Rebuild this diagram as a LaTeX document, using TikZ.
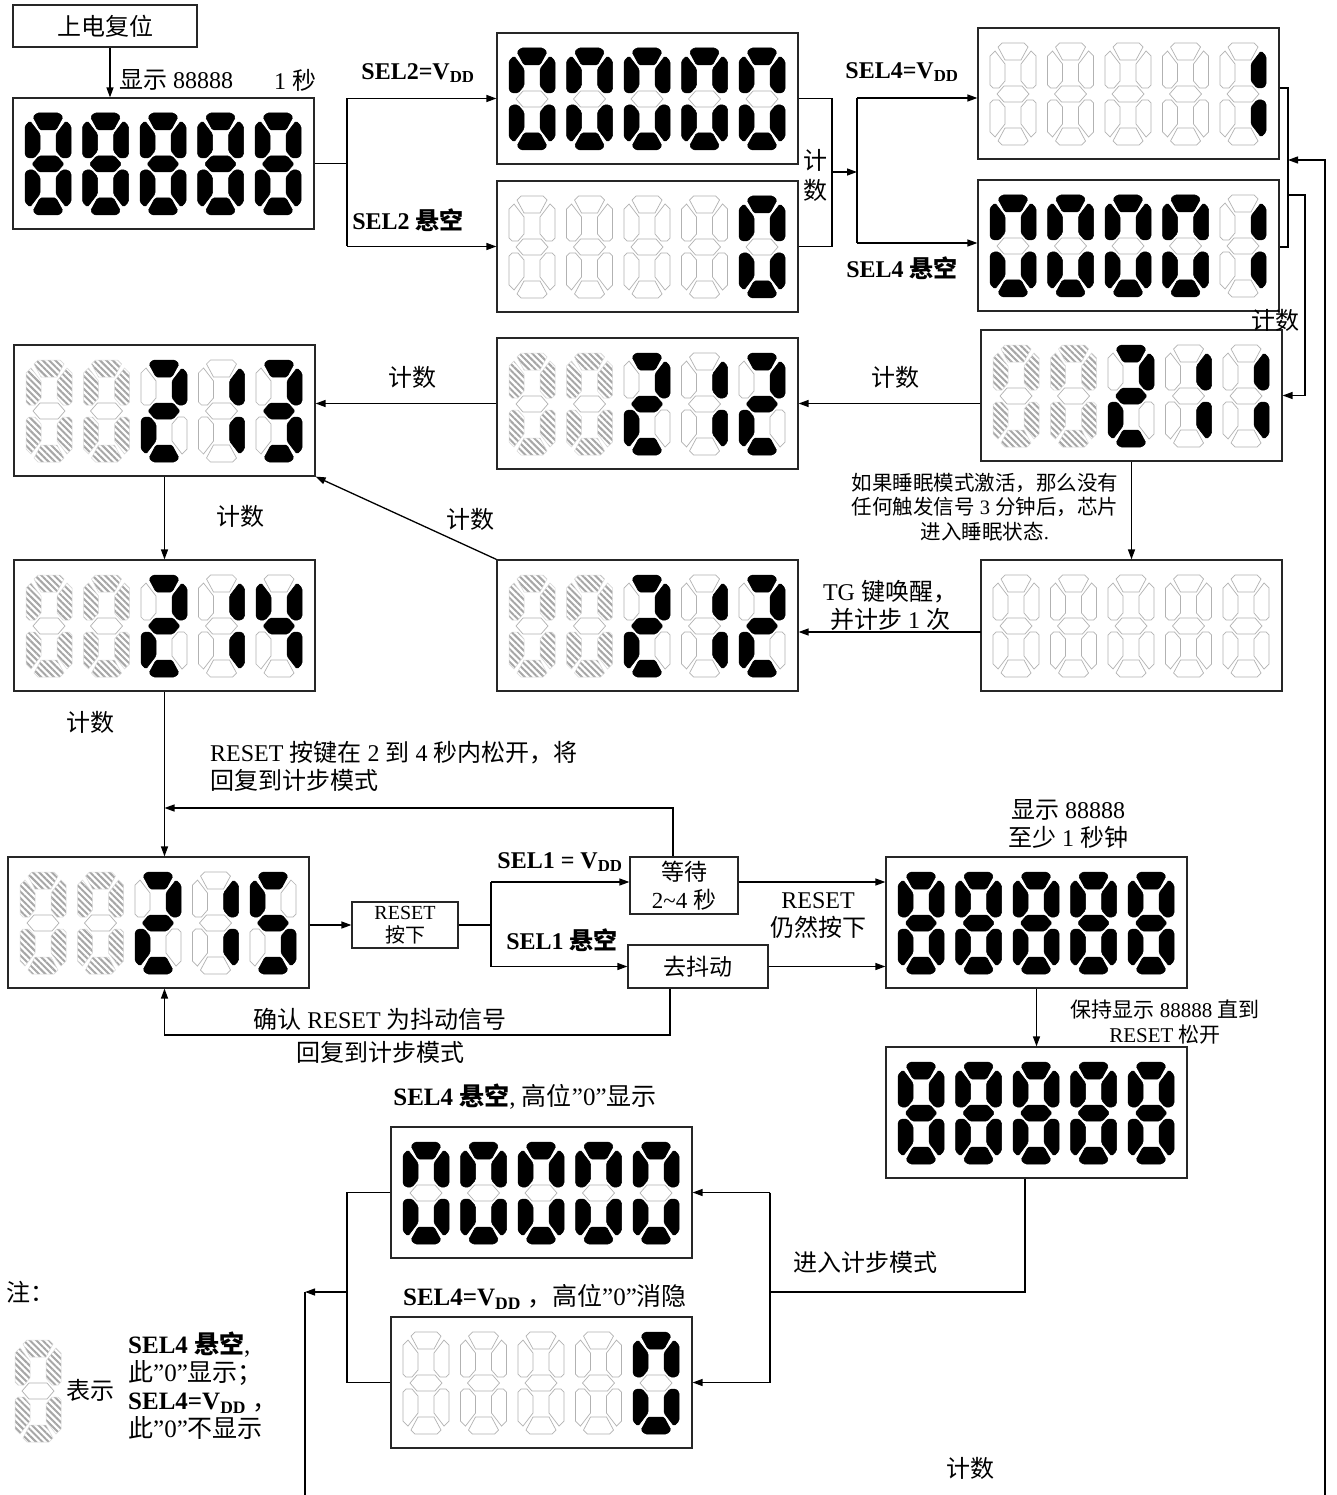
\documentclass[tikz,border=0pt]{standalone}
\usepackage{fontspec}
\setmainfont{Liberation Serif}
\newfontfamily\cjk{Noto Sans CJK SC}
\usetikzlibrary{arrows.meta,patterns.meta,calc}
\newcommand\zh[1]{{\cjk #1}}
\tikzset{
 sB/.style={fill=black,draw=black,line width=0.5pt,rounded corners=1.5pt},
 sO/.style={fill=white,draw=gray!60,line width=0.7pt},
 sH/.style={pattern={Lines[angle=-45,distance=4.5pt,line width=2pt]},pattern color=gray!70,draw=gray!30,line width=0.5pt},
 box/.style={draw=black!85,line width=1.2pt,minimum width=301pt,minimum height=131pt,inner sep=0pt,fill=white},
 tbox/.style={draw=black!85,line width=1.2pt,inner sep=0pt,fill=white,align=center,font=\fontsize{23}{28}\selectfont},
 ln/.style={line width=1.3pt},
 arr/.style={ln,-{Triangle[length=10pt,width=7pt]}},
 lab/.style={font=\fontsize{24}{28}\selectfont,inner sep=0pt,align=center},
 llab/.style={font=\fontsize{25}{28}\selectfont,inner sep=0pt,align=center},
 blab/.style={font=\fontsize{24}{28}\selectfont\bfseries,inner sep=0pt,align=center},
 slab/.style={font=\fontsize{20.5}{24.5}\selectfont,inner sep=0pt,align=center},
}
\def\sgE{BBBBBBB}
\def\sgZ{BBBOBBB}
\def\sgX{OOOOOOO}
\def\sgI{OOBOOBO}
\def\sgT{BOBBBOB}
\def\sgR{BOBBOBB}
\def\sgF{OBBBOBO}
\def\sgV{BBOBOBB}
\def\sgQ{HHHOHHH}
\def\digparse#1#2#3#4#5#6#7\relax{%
 \path[s#1,shift={({\dgx},{\dgy})}] (12,0)--(34,0)--(38,4)--(31,17)--(15,17)--(8,4)--cycle;
 \path[s#2,shift={({\dgx},{\dgy})}] (0,13)--(5,8)--(15,21)--(15,38)--(9,45)--(3,45)--(0,42)--cycle;
 \path[s#3,shift={({\dgx},{\dgy})}] (46,13)--(41,8)--(31,21)--(31,38)--(37,45)--(43,45)--(46,42)--cycle;
 \path[s#4,shift={({\dgx},{\dgy})}] (7,51)--(14,43)--(32,43)--(39,51)--(32,59)--(14,59)--cycle;
 \path[s#5,shift={({\dgx},{\dgy})}] (0,89)--(5,94)--(15,81)--(15,64)--(9,57)--(3,57)--(0,60)--cycle;
 \path[s#6,shift={({\dgx},{\dgy})}] (46,89)--(41,94)--(31,81)--(31,64)--(37,57)--(43,57)--(46,60)--cycle;
 \path[s#7,shift={({\dgx},{\dgy})}] (12,102)--(34,102)--(38,98)--(31,85)--(15,85)--(8,98)--cycle;
}
\newcommand\dig[3]{\def\dgx{#1}\def\dgy{#2}\expandafter\digparse#3\relax}
\newcommand\dbox[8]{%
 \node[box] (#1) at ({#2+150.5},{#3+65.5}) {};
 \dig{#2+12}{#3+15}{#4}\dig{#2+69.5}{#3+15}{#5}\dig{#2+127}{#3+15}{#6}%
 \dig{#2+184.5}{#3+15}{#7}\dig{#2+242}{#3+15}{#8}}
\begin{document}
\begin{tikzpicture}[x=1pt,y=-1pt]
\useasboundingbox (0,0) rectangle (1336,1495);
\fill[white] (0,0) rectangle (1336,1495);
% boxes
\node[tbox,minimum width=184pt,minimum height=42pt,font=\fontsize{24}{28}\selectfont] (pw) at (105,26) {\zh{上电复位}};
\dbox{A}{13}{98}{\sgE}{\sgE}{\sgE}{\sgE}{\sgE}
\dbox{B}{497}{33}{\sgZ}{\sgZ}{\sgZ}{\sgZ}{\sgZ}
\dbox{C}{497}{181}{\sgX}{\sgX}{\sgX}{\sgX}{\sgZ}
\dbox{D}{978}{28}{\sgX}{\sgX}{\sgX}{\sgX}{\sgI}
\dbox{E}{978}{180}{\sgZ}{\sgZ}{\sgZ}{\sgZ}{\sgI}
\dbox{F}{981}{330}{\sgQ}{\sgQ}{\sgT}{\sgI}{\sgI}
\dbox{G}{497}{338}{\sgQ}{\sgQ}{\sgT}{\sgI}{\sgT}
\dbox{H}{14}{345}{\sgQ}{\sgQ}{\sgT}{\sgI}{\sgR}
\dbox{I}{14}{560}{\sgQ}{\sgQ}{\sgT}{\sgI}{\sgF}
\dbox{J}{497}{560}{\sgQ}{\sgQ}{\sgT}{\sgI}{\sgT}
\dbox{K}{981}{560}{\sgX}{\sgX}{\sgX}{\sgX}{\sgX}
\dbox{L}{8}{857}{\sgQ}{\sgQ}{\sgT}{\sgI}{\sgV}
\dbox{M}{886}{857}{\sgE}{\sgE}{\sgE}{\sgE}{\sgE}
\dbox{N}{886}{1047}{\sgE}{\sgE}{\sgE}{\sgE}{\sgE}
\dbox{O}{391}{1127}{\sgZ}{\sgZ}{\sgZ}{\sgZ}{\sgZ}
\dbox{P}{391}{1317}{\sgX}{\sgX}{\sgX}{\sgX}{\sgZ}
\dig{15}{1340}{\sgQ}
\node[tbox,minimum width=106pt,minimum height=46pt,font=\fontsize{20}{23}\selectfont] (rst) at (405,925) {RESET\\\zh{按下}};
\node[tbox,minimum width=108pt,minimum height=57pt] (wait) at (684,885.5) {\zh{等待}\\2\textasciitilde4 \zh{秒}};
\node[tbox,minimum width=140pt,minimum height=43pt] (deb) at (698,966.5) {\zh{去抖动}};
% connectors
\coordinate (j0) at (110,47);
\draw[arr] (pw.south -| j0) -- (j0 |- A.north);
\coordinate (j1) at (347,163.5);
\draw[ln] (A.east) -- (j1);
\draw[ln] (j1 |- B.west) -- (j1 |- C.west);
\draw[arr] (j1 |- B.west) -- (B.west);
\draw[arr] (j1 |- C.west) -- (C.west);
\coordinate (j2) at (832,172);
\draw[ln] (B.east) -- (B.east -| j2) -- (C.east -| j2) -- (C.east);
\coordinate (j3) at (857,172);
\draw[arr] (j2) -- (j3);
\coordinate (jd) at (857,98);
\coordinate (je) at (857,243);
\draw[ln] (jd) -- (je);
\draw[arr] (jd) -- (jd -| D.west);
\draw[arr] (je) -- (je -| E.west);
\coordinate (j4) at (1288,160);
\coordinate (jdr) at (1288,88);
\coordinate (jer) at (1288,247);
\draw[ln] (jdr -| D.east) -- (jdr) -- (jer) -- (jer -| E.east);
\coordinate (j5) at (1305,195);
\draw[ln] (j5 -| j4) -- (j5) -- (j5 |- F.east);
\draw[arr] (j5 |- F.east) -- (F.east);
\coordinate (rb) at (1325,1495);
\draw[arr] (rb) -- (rb |- j4) -- (j4);
\draw[arr] (G.east -| F.west) -- (G.east);
\draw[arr] (G.west) -- (G.west -| H.east);
\draw[arr] (H.south) -- (I.north);
\draw[arr] (J.north west) -- (H.south east);
\draw[arr] (F.south) -- (K.north);
\coordinate (jk) at (981,632);
\draw[arr] (jk) -- (jk -| J.east);
\draw[arr] (I.south) -- (I.south |- L.north);
\draw[arr] (rst.west -| L.east) -- (rst.west);
\coordinate (j6) at (491,925);
\draw[ln] (rst.east) -- (j6);
\coordinate (jw) at (491,882);
\coordinate (jb) at (491,966.5);
\draw[ln] (jw) -- (jb);
\draw[arr] (jw) -- (jw -| wait.west);
\draw[arr] (jb) -- (deb.west);
\draw[arr] (jw -| wait.east) -- (jw -| M.west);
\draw[arr] (deb.east) -- (deb.east -| M.west);
\coordinate (j7) at (673,808);
\draw[arr] (wait.north -| j7) -- (j7) -- (j7 -| I.south);
\coordinate (j8) at (670,1035);
\draw[arr] (deb.south -| j8) -- (j8) -- (j8 -| I.south) -- (L.south -| I.south);
\draw[arr] (M.south) -- (N.north);
\coordinate (j9) at (1025,1292);
\coordinate (j10) at (770,1292);
\draw[ln] (N.south -| j9) -- (j9) -- (j10);
\draw[ln] (O.east -| j10) -- (P.east -| j10);
\draw[arr] (O.east -| j10) -- (O.east);
\draw[arr] (P.east -| j10) -- (P.east);
\coordinate (j11) at (347,1292);
\draw[ln] (O.west) -- (O.west -| j11) -- (P.west -| j11) -- (P.west);
\coordinate (j12) at (305,1292);
\coordinate (lb) at (305,1495);
\draw[arr] (j11) -- (j12);
\draw[ln] (j12) -- (lb);
% labels
\node[lab] (t1) at (176,80) {\zh{显示} 88888};
\node[lab] (t2) at (295,80) {1 \zh{秒}};
\node[blab] (t3) at (418,73) {SEL2=V\textsubscript{DD}};
\node[blab] (t4) at (408,220) {SEL2 \zh{悬空}};
\node[lab] (t5) at (815,160) {\zh{计}};
\node[lab] (t6) at (815,190) {\zh{数}};
\node[blab] (t7) at (902,72) {SEL4=V\textsubscript{DD}};
\node[blab] (t8) at (902,268) {SEL4 \zh{悬空}};
\node[lab] (t9) at (1275,320) {\zh{计数}};
\node[lab] (t10) at (895,377) {\zh{计数}};
\node[lab] (t11) at (412,377) {\zh{计数}};
\node[lab] (t12) at (240,516) {\zh{计数}};
\node[lab] (t13) at (470,519) {\zh{计数}};
\node[lab] (t14) at (90,722) {\zh{计数}};
\node[lab] (t15) at (970,1468) {\zh{计数}};
\node[slab] (t16) at (985,507) {\zh{如果睡眠模式激活，那么没有}\\\zh{任何触发信号} 3 \zh{分钟后，芯片}\\\zh{进入睡眠状态}.};
\node[lab] (t17) at (890,605) {TG \zh{键唤醒，}\\\zh{并计步} 1 \zh{次}};
\node[lab,anchor=west,align=left] (t18) at (210,766) {RESET \zh{按键在} 2 \zh{到} 4 \zh{秒内松开，将}\\\zh{回复到计步模式}};
\node[blab] (t19) at (560,862) {SEL1 = V\textsubscript{DD}};
\node[blab] (t20) at (562,940) {SEL1 \zh{悬空}};
\node[lab] (t21) at (818,916) {RESET\\\zh{仍然按下}};
\node[lab] (t22) at (1068,824) {\zh{显示} 88888\\\zh{至少} 1 \zh{秒钟}};
\node[slab,font=\fontsize{21}{25}\selectfont] (t23) at (1165,1022) {\zh{保持显示} 88888 \zh{直到}\\RESET \zh{松开}};
\node[lab,font=\fontsize{24}{33}\selectfont] (t24) at (380,1036) {\zh{确认} RESET \zh{为抖动信号}\\\zh{回复到计步模式}};
\node[llab] (t25) at (525,1097) {\textbf{SEL4 \zh{悬空}}, \zh{高位}”0”\zh{显示}};
\node[lab] (t26) at (865,1262) {\zh{进入计步模式}};
\node[llab] (t27) at (545,1297) {\textbf{SEL4=V\textsubscript{DD}} \zh{，}\zh{高位}”0”\zh{消隐}};
\node[lab] (t28) at (30,1292) {\zh{注：}};
\node[lab] (t29) at (90,1390) {\zh{表示}};
\node[llab,anchor=west,align=left] (t30) at (128,1386) {\textbf{SEL4 \zh{悬空}},\\\zh{此}”0”\zh{显示；}\\\textbf{SEL4=V\textsubscript{DD}} \zh{，}\\\zh{此}”0”\zh{不显示}};
\end{tikzpicture}
\end{document}
